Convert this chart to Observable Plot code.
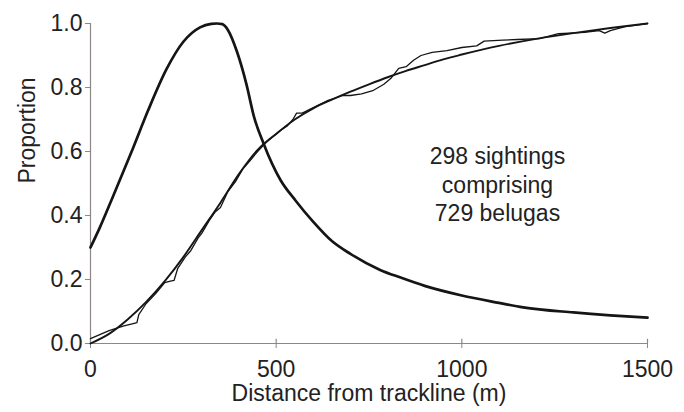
<!DOCTYPE html>
<html>
<head>
<meta charset="utf-8">
<script src="https://cdn.jsdelivr.net/npm/d3@7"></script>
<script src="https://cdn.jsdelivr.net/npm/@observablehq/plot@0.6"></script>
<style>
  html, body { margin: 0; padding: 0; background: #fff; }
</style>
</head>
<body>
<div id="chart"></div>
<script>
// Detection function (probability of detection vs distance)
const detDistance = [0, 25, 60, 115, 155, 205, 250, 295, 325, 340, 355, 370, 395, 420, 440, 466, 512, 552, 600, 650, 700, 780, 835, 900, 1000, 1100, 1165, 1300, 1400, 1500];
const detProb     = [0.30, 0.362, 0.458, 0.612, 0.728, 0.858, 0.943, 0.988, 0.999, 1.0, 0.998, 0.98, 0.91, 0.81, 0.71, 0.625, 0.51, 0.447, 0.38, 0.32, 0.28, 0.23, 0.206, 0.18, 0.15, 0.127, 0.113, 0.097, 0.088, 0.081];

// Fitted cumulative distribution
const cdfDistance = [0, 50, 100, 150, 200, 250, 300, 350, 400, 450, 500, 550, 600, 650, 700, 750, 800, 850, 900, 950, 1000, 1100, 1200, 1300, 1400, 1500];
const cdfProp     = [0.0, 0.03, 0.075, 0.13, 0.195, 0.27, 0.355, 0.44, 0.53, 0.605, 0.655, 0.7, 0.735, 0.762, 0.787, 0.81, 0.832, 0.852, 0.87, 0.888, 0.903, 0.93, 0.952, 0.97, 0.986, 1.0];

// Empirical cumulative distribution of sightings
const empDistance = [0, 50, 90, 115, 125, 130, 150, 175, 200, 215, 225, 235, 255, 270, 290, 300, 320, 335, 350, 370, 390, 410, 430, 450, 470, 490, 510, 530, 545, 555, 570, 600, 640, 680, 700, 730, 760, 790, 810, 830, 850, 870, 890, 920, 960, 1000, 1040, 1060, 1110, 1150, 1210, 1260, 1330, 1370, 1385, 1400, 1440, 1470, 1500];
const empProp     = [0.015, 0.04, 0.055, 0.062, 0.065, 0.09, 0.125, 0.155, 0.19, 0.195, 0.197, 0.235, 0.27, 0.29, 0.33, 0.345, 0.385, 0.41, 0.425, 0.475, 0.505, 0.545, 0.572, 0.6, 0.625, 0.645, 0.665, 0.68, 0.7, 0.72, 0.72, 0.737, 0.76, 0.775, 0.775, 0.78, 0.79, 0.81, 0.83, 0.86, 0.865, 0.885, 0.9, 0.91, 0.915, 0.925, 0.93, 0.945, 0.948, 0.95, 0.953, 0.968, 0.972, 0.978, 0.97, 0.978, 0.99, 0.995, 1.0];

const xTicks = [0, 500, 1000, 1500];
const yTicks = [0, 0.2, 0.4, 0.6, 0.8, 1.0];
const xLabel = "Distance from trackline (m)";
const yLabel = "Proportion";
const note = "298 sightings\ncomprising\n729 belugas";

const det = detDistance.map((d, i) => ({x: d, y: detProb[i]}));
const cdf = cdfDistance.map((d, i) => ({x: d, y: cdfProp[i]}));
const emp = empDistance.map((d, i) => ({x: d, y: empProp[i]}));

const axisColor = "#8e8787";
const ink = "#151515";
const font = "'Liberation Sans', Arial, Helvetica, sans-serif";

const chart = Plot.plot({
  width: 684,
  height: 412,
  marginLeft: 90,
  marginRight: 37,
  marginTop: 23,
  marginBottom: 69,
  style: {fontFamily: font, fontSize: "23px", color: "#222", background: "#fff"},
  x: {domain: [0, 1500]},
  y: {domain: [0, 1]},
  marks: [
    Plot.ruleX([0], {y1: 0, y2: 1, stroke: axisColor, strokeWidth: 1.2}),
    Plot.ruleY([0], {x1: 0, x2: 1500, stroke: axisColor, strokeWidth: 1.2}),
    Plot.ruleX(xTicks, {x: d => d, y1: 0, y2: 0.013, stroke: axisColor, strokeWidth: 1.2}),
    Plot.axisY({ticks: yTicks, tickFormat: d => d.toFixed(1), tickSize: 5, tickPadding: 3, stroke: axisColor, fill: "#222", label: null, fontSize: 23}),
    Plot.axisX({ticks: xTicks, tickFormat: d => String(d), tickSize: 5, tickPadding: 12, stroke: axisColor, fill: "#222", label: null, fontSize: 23}),
    Plot.line(emp, {x: "x", y: "y", stroke: ink, strokeWidth: 1.3, curve: "linear"}),
    Plot.line(cdf, {x: "x", y: "y", stroke: ink, strokeWidth: 1.9, curve: "monotone-x"}),
    Plot.line(det, {x: "x", y: "y", stroke: ink, strokeWidth: 2.7, curve: "monotone-x"}),
    Plot.text([note], {x: 1096, y: 0.5, text: d => d, fontSize: 23, lineHeight: 1.24, fill: "#222", textAnchor: "middle"}),
    Plot.text([xLabel], {frameAnchor: "bottom", dy: 57, text: d => d, fontSize: 23, fill: "#222"}),
    Plot.text([yLabel], {frameAnchor: "left", dx: -63, rotate: -90, text: d => d, fontSize: 23, fill: "#222"})
  ]
});
document.getElementById("chart").appendChild(chart);
</script>
</body>
</html>
